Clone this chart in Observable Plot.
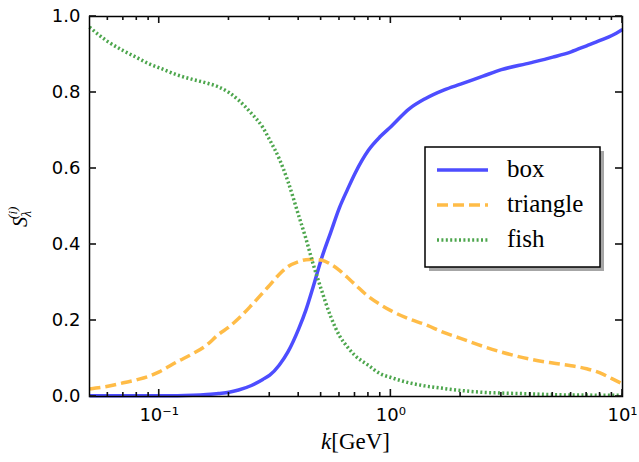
<!DOCTYPE html>
<html>
<head>
<meta charset="utf-8">
<script src="https://cdn.jsdelivr.net/npm/d3@7"></script>
<script src="https://cdn.jsdelivr.net/npm/@observablehq/plot@0.6"></script>
<style>
  html, body { margin: 0; padding: 0; background: white; }
</style>
</head>
<body>
<div id="chart"></div>
<script>
const kValues = [0.05, 0.06, 0.07, 0.08, 0.09, 0.10, 0.12, 0.14, 0.16, 0.18, 0.20, 0.22, 0.25, 0.28, 0.30, 0.33, 0.36, 0.40, 0.43, 0.46, 0.50, 0.55, 0.60, 0.65, 0.70, 0.80, 0.90, 1.0, 1.2, 1.4, 1.7, 2.0, 2.5, 3.0, 4.0, 5.0, 6.0, 7.0, 8.0, 9.0, 10];
const boxValues = [0.002, 0.002, 0.002, 0.002, 0.002, 0.002, 0.002, 0.003, 0.005, 0.008, 0.011, 0.017, 0.029, 0.045, 0.056, 0.083, 0.118, 0.178, 0.228, 0.285, 0.360, 0.432, 0.497, 0.545, 0.587, 0.648, 0.684, 0.710, 0.757, 0.783, 0.807, 0.822, 0.843, 0.860, 0.878, 0.893, 0.907, 0.923, 0.937, 0.950, 0.966];
const triangleValues = [0.020, 0.027, 0.036, 0.044, 0.053, 0.065, 0.092, 0.113, 0.135, 0.163, 0.183, 0.205, 0.240, 0.273, 0.293, 0.322, 0.342, 0.355, 0.360, 0.361, 0.359, 0.348, 0.332, 0.313, 0.295, 0.263, 0.242, 0.226, 0.204, 0.190, 0.168, 0.153, 0.132, 0.117, 0.098, 0.088, 0.081, 0.073, 0.062, 0.047, 0.033];
const fishValues = [0.972, 0.934, 0.910, 0.892, 0.876, 0.865, 0.846, 0.834, 0.825, 0.815, 0.800, 0.780, 0.745, 0.708, 0.675, 0.625, 0.565, 0.476, 0.415, 0.352, 0.283, 0.210, 0.160, 0.130, 0.108, 0.082, 0.060, 0.050, 0.036, 0.028, 0.021, 0.016, 0.011, 0.009, 0.007, 0.005, 0.004, 0.004, 0.003, 0.003, 0.003];

const seriesNames = ["box", "triangle", "fish"];
const xMajorTicks = [0.1, 1, 10];
const xMajorLabels = ["10⁻¹", "10⁰", "10¹"];
const xMinorTicks = [0.06, 0.07, 0.08, 0.09, 0.2, 0.3, 0.4, 0.5, 0.6, 0.7, 0.8, 0.9, 2, 3, 4, 5, 6, 7, 8, 9];
const yTicks = [0, 0.2, 0.4, 0.6, 0.8, 1.0];
const xDomain = [0.05, 10];
const yDomain = [0, 1];

const styles = {
  box: {stroke: "#4d4dff", strokeWidth: 3.5},
  triangle: {stroke: "#ffbc47", strokeWidth: 3.5, strokeDasharray: "11,5"},
  fish: {stroke: "#4da64d", strokeWidth: 3.5, strokeDasharray: "2,2.4"}
};
const seriesValues = {box: boxValues, triangle: triangleValues, fish: fishValues};
const rows = (vals) => kValues.map((k, i) => ({k, v: vals[i]}));

const MAJOR = 7, MINOR = 4;

const plot = Plot.plot({
  width: 639,
  height: 462,
  marginLeft: 89,
  marginRight: 17,
  marginTop: 16,
  marginBottom: 66,
  style: {fontFamily: "DejaVu Sans", fontSize: "18px", color: "black", background: "white"},
  x: {type: "log", domain: xDomain},
  y: {domain: yDomain},
  marks: [
    ...seriesNames.map(name => Plot.line(rows(seriesValues[name]), {
      x: "k", y: "v", curve: "monotone-x", strokeLinecap: "butt", strokeLinejoin: "round", ...styles[name]})),
    Plot.axisX({anchor: "bottom", ticks: xMajorTicks, tickSize: 0, tickPadding: 12, label: null,
      tickFormat: d => xMajorLabels[xMajorTicks.indexOf(d)], fill: "black"}),
    Plot.axisY({anchor: "left", ticks: yTicks, tickSize: 0, tickPadding: 9, label: null,
      tickFormat: d => d.toFixed(1), fill: "black"}),
    Plot.frame({stroke: "black", strokeWidth: 1.5})
  ]
});

document.getElementById("chart").appendChild(plot);

const svg = d3.select(plot);
const sx = plot.scale("x"), sy = plot.scale("y");
const X = v => sx.apply(v), Y = v => sy.apply(v);
const x0 = X(xDomain[0]), x1 = X(xDomain[1]), y0 = Y(yDomain[0]), y1 = Y(yDomain[1]);

// inward ticks on all four sides
const tg = svg.append("g").attr("stroke", "#111").attr("stroke-width", 1.6).attr("fill", "none");
const addX = (vals, len) => vals.forEach(v => {
  tg.append("line").attr("x1", X(v)).attr("x2", X(v)).attr("y1", y0).attr("y2", y0 - len);
  tg.append("line").attr("x1", X(v)).attr("x2", X(v)).attr("y1", y1).attr("y2", y1 + len);
});
addX(xMajorTicks, MAJOR);
addX(xMinorTicks, MINOR);
yTicks.forEach(v => {
  tg.append("line").attr("y1", Y(v)).attr("y2", Y(v)).attr("x1", x0).attr("x2", x0 + MAJOR);
  tg.append("line").attr("y1", Y(v)).attr("y2", Y(v)).attr("x1", x1).attr("x2", x1 - MAJOR);
});

// x axis label
const xl = svg.append("text")
  .attr("x", (x0 + x1) / 2).attr("y", 449)
  .attr("text-anchor", "middle")
  .attr("font-family", "Liberation Serif")
  .attr("font-size", 23)
  .attr("fill", "black");
xl.append("tspan").attr("font-style", "italic").text("k");
xl.append("tspan").text("[GeV]");

// y axis label
const yl = svg.append("text")
  .attr("transform", "translate(27,227) rotate(-90)")
  .attr("text-anchor", "start")
  .attr("font-family", "Liberation Serif")
  .attr("font-size", 20)
  .attr("font-style", "italic")
  .attr("fill", "black");
yl.append("tspan").text("S");
yl.append("tspan").attr("font-size", 14).attr("dy", 4).text("λ");
yl.append("tspan").attr("font-size", 13).attr("dx", -8).attr("dy", -14).text("(i)");

// legend
const lg = svg.append("g");
lg.append("rect").attr("x", 429).attr("y", 151).attr("width", 175).attr("height", 120).attr("fill", "#a6a6a6");
lg.append("rect").attr("x", 425).attr("y", 147).attr("width", 175).attr("height", 120)
  .attr("fill", "white").attr("stroke", "black").attr("stroke-width", 1.5);
seriesNames.forEach((name, i) => {
  const y = 170 + i * 35;
  const s = styles[name];
  lg.append("line").attr("x1", 437).attr("x2", 488).attr("y1", y).attr("y2", y)
    .attr("stroke", s.stroke).attr("stroke-width", s.strokeWidth)
    .attr("stroke-dasharray", s.strokeDasharray || null);
  lg.append("text").attr("x", 507).attr("y", y + 7)
    .attr("text-anchor", "start")
    .attr("font-family", "Liberation Serif").attr("font-size", 25).attr("fill", "black")
    .text(name);
});
</script>
</body>
</html>
